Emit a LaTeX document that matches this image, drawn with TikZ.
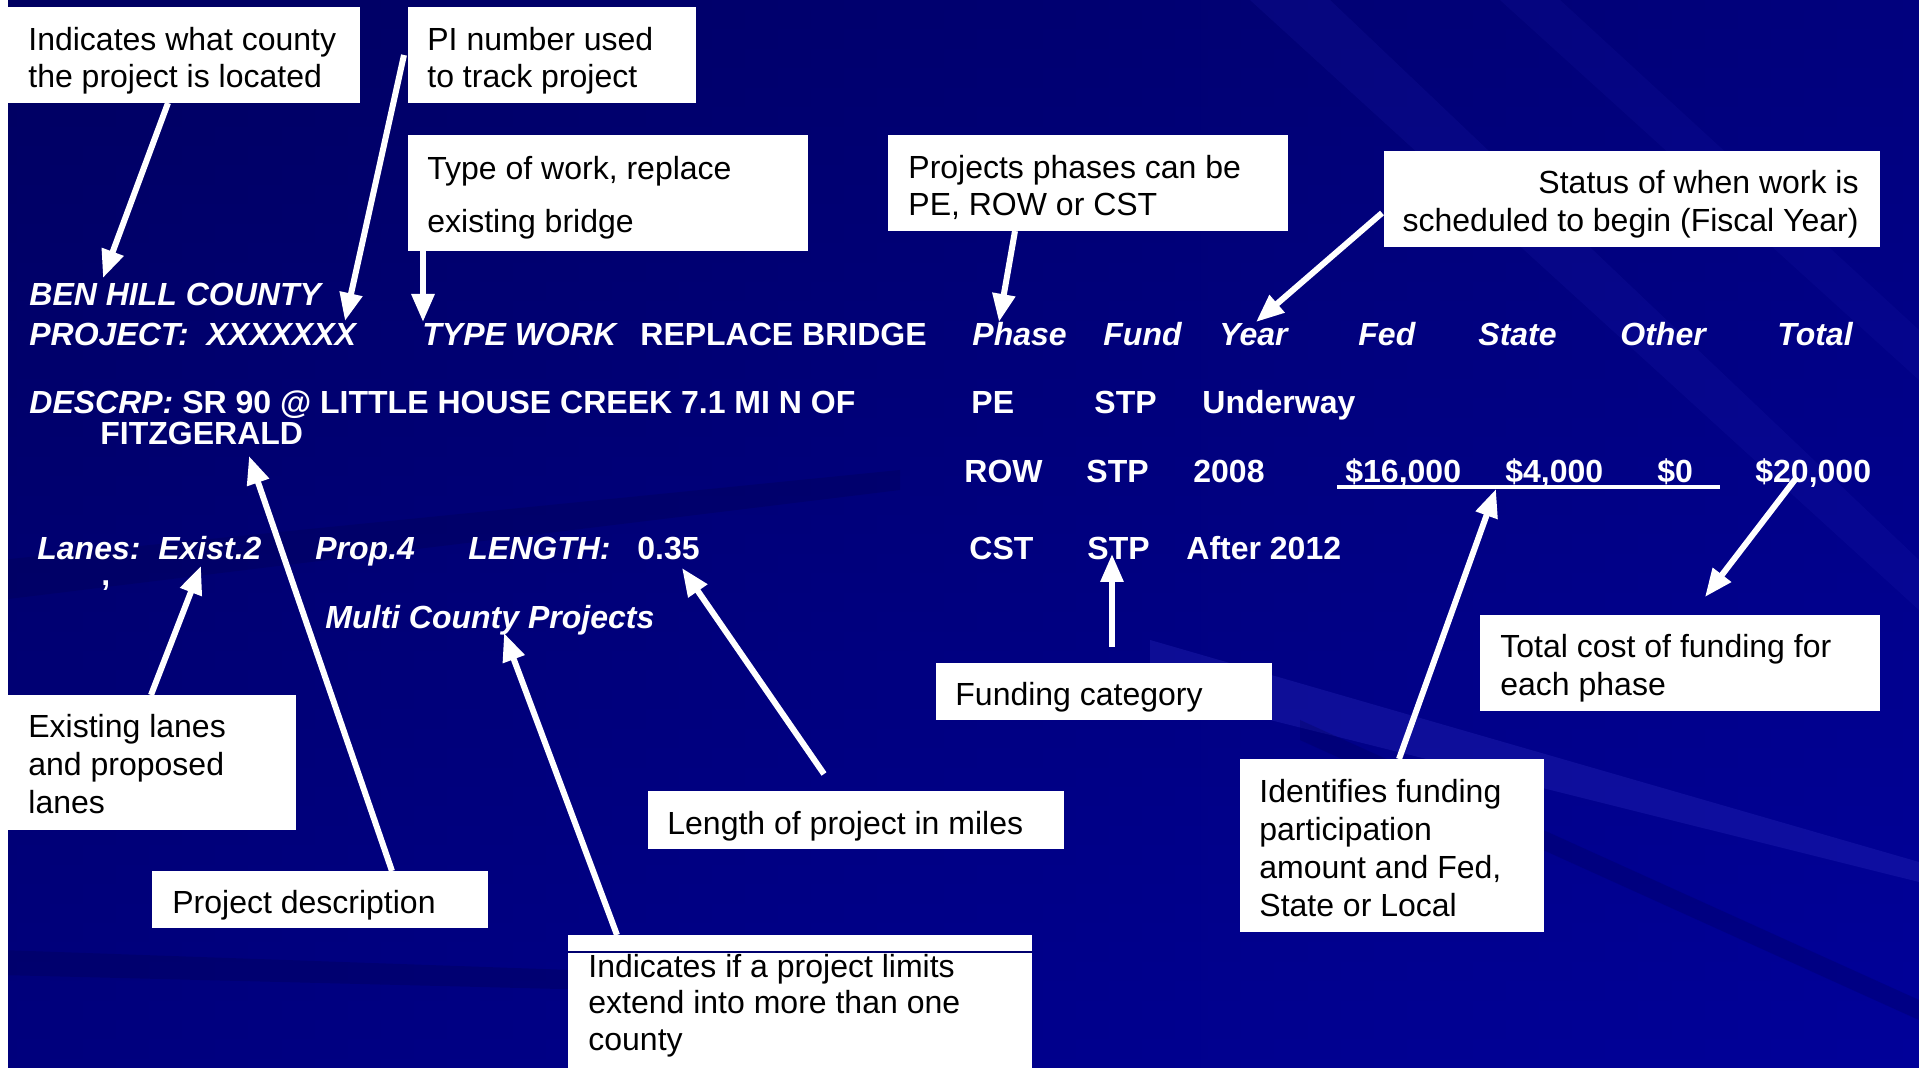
\documentclass[tikz,border=0pt]{standalone}
\usepackage{fontspec}
\setmainfont{Liberation Sans}
\usetikzlibrary{arrows.meta}
\definecolor{bgL}{RGB}{0,0,100}
\definecolor{bgR}{RGB}{4,4,158}
\definecolor{bgT}{RGB}{0,0,95}
\definecolor{bgB}{RGB}{0,0,150}
\definecolor{streak}{RGB}{40,40,185}
\definecolor{darkstreak}{RGB}{0,0,80}
\definecolor{rulenavy}{RGB}{0,0,110}
\begin{document}
\begin{tikzpicture}[x=0.5pt,y=-0.5pt,
  box/.style={fill=white, draw=none, inner sep=0pt, outer sep=0pt, anchor=north west},
  btxt/.style={anchor=base west, inner sep=0pt, yshift=-1.5pt, text=black, font=\fontsize{16}{19}\selectfont},
  brtxt/.style={btxt, anchor=base east},
  wtxt/.style={anchor=base west, inner sep=0pt, yshift=-1.2pt, text=white, font=\bfseries\fontsize{16}{19}\selectfont},
  witx/.style={wtxt, font=\bfseries\itshape\fontsize{16}{19}\selectfont},
  arr/.style={draw=white, line width=3pt, -{Triangle[width=11pt,length=14pt]}}]
\useasboundingbox (0,0) rectangle (1919,1068);
% background
\shade[left color=bgL, right color=bgR] (0,0) rectangle (1919,1068);
\shade[top color=bgT, bottom color=bgB, opacity=0.5] (0,0) rectangle (1919,1068);
\fill[streak, opacity=0.35] (1150,640) -- (1919,862) -- (1919,882) -- (1150,690) -- cycle;
\fill[streak, opacity=0.15] (1250,0) -- (1330,0) -- (1919,560) -- (1919,610) -- cycle;
\fill[streak, opacity=0.12] (1500,0) -- (1560,0) -- (1919,330) -- (1919,380) -- cycle;
\fill[darkstreak, opacity=0.3] (0,560) -- (900,470) -- (900,490) -- (0,600) -- cycle;
\fill[darkstreak, opacity=0.3] (0,950) -- (1000,985) -- (1000,1000) -- (0,975) -- cycle;
\fill[darkstreak, opacity=0.25] (1300,720) -- (1919,1000) -- (1919,1020) -- (1300,740) -- cycle;
\fill[white] (0,0) rectangle (8,1068);

% boxes
\node[box, minimum width=176pt, minimum height=48pt] (b1) at (8,7) {};
\node[box, minimum width=144pt, minimum height=48pt] (b2) at (408,7) {};
\node[box, minimum width=200pt, minimum height=58pt] (b3) at (408,135) {};
\node[box, minimum width=200pt, minimum height=48pt] (b4) at (888,135) {};
\node[box, minimum width=248pt, minimum height=48pt] (b5) at (1384,151) {};
\node[box, minimum width=144pt, minimum height=67.5pt] (b6) at (8,695) {};
\node[box, minimum width=168pt, minimum height=28.5pt] (b7) at (152,871) {};
\node[box, minimum width=208pt, minimum height=29pt] (b8) at (648,791) {};
\node[box, minimum width=232pt, minimum height=66.5pt] (b9) at (568,935) {};
\node[box, minimum width=168pt, minimum height=28.5pt] (b10) at (936,663) {};
\node[box, minimum width=200pt, minimum height=48pt] (b11) at (1480,615) {};
\node[box, minimum width=152pt, minimum height=86.5pt] (b12) at (1240,759) {};
\coordinate (b9la) at (568,952);
\coordinate (b9lb) at (1032,952);
\draw[rulenavy, line width=0.6pt] (b9la) -- (b9lb);

% box texts
\node[btxt] (t1a) at (28,48) {Indicates what county};
\node[btxt] (t1b) at (28,85) {the project is located};
\node[btxt] (t2a) at (427,48) {PI number used};
\node[btxt] (t2b) at (427,85) {to track project};
\node[btxt] (t3a) at (427,177) {Type of work, replace};
\node[btxt] (t3b) at (427,230) {existing bridge};
\node[btxt] (t4a) at (908,176) {Projects phases can be};
\node[btxt] (t4b) at (908,213) {PE, ROW or CST};
\node[brtxt] (t5a) at (1859,191) {Status of when work is};
\node[brtxt] (t5b) at (1859,229) {scheduled to begin (Fiscal Year)};
\node[btxt] (t6a) at (28,735) {Existing lanes};
\node[btxt] (t6b) at (28,773) {and proposed};
\node[btxt] (t6c) at (28,811) {lanes};
\node[btxt] (t7) at (172,911) {Project description};
\node[btxt] (t8) at (667,832) {Length of project in miles};
\node[btxt] (t9a) at (588,975) {Indicates if a project limits};
\node[btxt] (t9b) at (588,1011) {extend into more than one};
\node[btxt] (t9c) at (588,1048) {county};
\node[btxt] (t10) at (955,703) {Funding category};
\node[btxt] (t11a) at (1500,655) {Total cost of funding for};
\node[btxt] (t11b) at (1500,693) {each phase};
\node[btxt] (t12a) at (1259,800) {Identifies funding};
\node[btxt] (t12b) at (1259,838) {participation};
\node[btxt] (t12c) at (1259,876) {amount and Fed,};
\node[btxt] (t12d) at (1259,914) {State or Local};

% table texts
\node[witx] (county) at (29,303) {BEN HILL COUNTY};
\node[witx] (project) at (29,343) {PROJECT:~~XXXXXXX};
\node[witx] (typework) at (422,343) {TYPE WORK};
\node[wtxt] (replace) at (640,343) {REPLACE BRIDGE};
\node[witx] (hphase) at (972,343) {Phase};
\node[witx] (hfund) at (1103,343) {Fund};
\node[witx] (hyear) at (1219,343) {Year};
\node[witx] (hfed) at (1358,343) {Fed};
\node[witx] (hstate) at (1478,343) {State};
\node[witx] (hother) at (1620,343) {Other};
\node[witx] (htotal) at (1777,343) {Total};
\node[wtxt] (descr) at (29,411) {\itshape DESCRP:\upshape{} SR 90 @ LITTLE HOUSE CREEK 7.1 MI N OF};
\node[wtxt] (fitz) at (100,442) {FITZGERALD};
\node[wtxt] (pe) at (971,411) {PE};
\node[wtxt] (pestp) at (1094,411) {STP};
\node[wtxt] (peyear) at (1202,411) {Underway};
\node[wtxt] (row) at (964,480) {ROW};
\node[wtxt] (rowstp) at (1086,480) {STP};
\node[wtxt] (rowyear) at (1193,480) {2008};
\node[wtxt] (rowfed) at (1345,480) {\$16,000};
\node[wtxt] (rowstate) at (1505,480) {\$4,000};
\node[wtxt] (rowother) at (1657,480) {\$0};
\node[wtxt] (rowtotal) at (1755,480) {\$20,000};
\node[witx] (lanes) at (37,557) {Lanes:~~Exist.2};
\node[wtxt] (comma) at (101,583) {,};
\node[witx] (prop) at (315,557) {Prop.4};
\node[witx] (length) at (468,557) {LENGTH:};
\node[wtxt] (lenval) at (637,557) {0.35};
\node[wtxt] (cst) at (969,557) {CST};
\node[wtxt] (cststp) at (1087,557) {STP};
\node[wtxt] (cstyear) at (1186,557) {After 2012};
\node[witx] (multi) at (325,626) {Multi County Projects};

% underline
\coordinate (ula) at (1337,487);
\coordinate (ulb) at (1720,487);
\draw[white, line width=1.6pt] (ula) -- (ulb);

% arrows
\coordinate (a1s) at (168,103);  \coordinate (a1e) at (103,278);
\coordinate (a2s) at (404,55);   \coordinate (a2e) at (345,321);
\coordinate (a3s) at (423,251);  \coordinate (a3e) at (423,322);
\coordinate (a4s) at (1015,231); \coordinate (a4e) at (999,322);
\coordinate (a5s) at (1382,213); \coordinate (a5e) at (1256,322);
\coordinate (a6s) at (392,871);  \coordinate (a6e) at (249,456);
\coordinate (a7s) at (151,695);  \coordinate (a7e) at (201,566);
\coordinate (a8s) at (617,935);  \coordinate (a8e) at (504,633);
\coordinate (a9s) at (824,774);  \coordinate (a9e) at (682,568);
\coordinate (a10s) at (1112,647); \coordinate (a10e) at (1112,554);
\coordinate (a11s) at (1399,759); \coordinate (a11e) at (1496,489);
\coordinate (a12s) at (1797,477); \coordinate (a12e) at (1705,597);
\draw[arr] (a1s) -- (a1e);
\draw[arr] (a2s) -- (a2e);
\draw[arr] (a3s) -- (a3e);
\draw[arr] (a4s) -- (a4e);
\draw[arr] (a5s) -- (a5e);
\draw[arr] (a6s) -- (a6e);
\draw[arr] (a7s) -- (a7e);
\draw[arr] (a8s) -- (a8e);
\draw[arr] (a9s) -- (a9e);
\draw[arr] (a10s) -- (a10e);
\draw[arr] (a11s) -- (a11e);
\draw[arr] (a12s) -- (a12e);
\end{tikzpicture}
\end{document}
